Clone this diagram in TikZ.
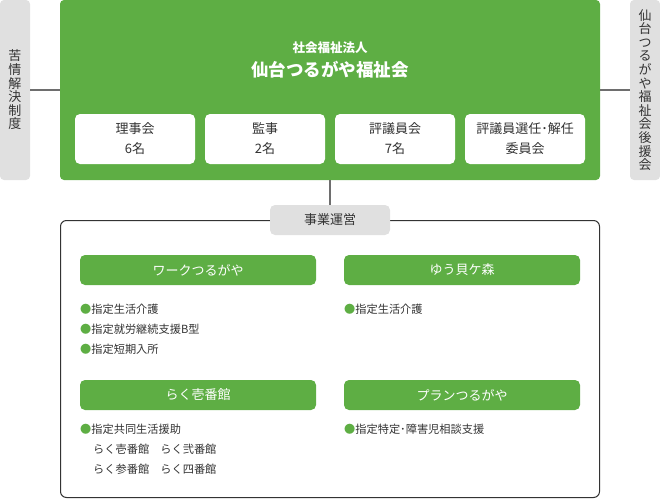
\documentclass[tikz,border=0pt]{standalone}
\usepackage{fontspec}
\setmainfont{Noto Sans CJK JP}
\definecolor{orggreen}{HTML}{5EAE44}
\definecolor{boxgray}{HTML}{E0E0E0}
\definecolor{txtgray}{HTML}{333333}
\definecolor{linegray}{HTML}{6E6E6E}
\begin{document}
\begin{tikzpicture}[x=1pt,y=-1pt,
  sidebox/.style={fill=boxgray, rounded corners=4pt, minimum width=30pt, minimum height=180pt, inner sep=0pt, align=center, text=txtgray, font=\fontsize{13}{13.6}\selectfont},
  corpbox/.style={fill=orggreen, rounded corners=4pt, minimum width=540pt, minimum height=180pt, inner sep=0pt},
  whitebox/.style={fill=white, rounded corners=5pt, minimum width=120pt, minimum height=50pt, inner sep=0pt, align=center, text=txtgray, font=\fontsize{13}{20}\selectfont},
  greenbar/.style={fill=orggreen, rounded corners=5pt, minimum width=236pt, minimum height=30pt, inner sep=0pt, text=white, font=\fontsize{13}{15}\selectfont},
  labelbox/.style={fill=boxgray, rounded corners=5pt, minimum width=120pt, minimum height=30pt, inner sep=0pt, text=txtgray, font=\fontsize{13}{15}\selectfont},
  outerbox/.style={draw=txtgray, line width=1pt, rounded corners=6pt, minimum width=539pt, minimum height=277pt, inner sep=0pt},
  conn/.style={draw=linegray, line width=1.2pt},
  item/.style={anchor=west, inner sep=0pt, text=txtgray, font=\fontsize{11.2}{14}\selectfont},
  bul/.style={text=orggreen}
]
\useasboundingbox (0,0) rectangle (660,500);
% side boxes
\node[sidebox] (left) at (15,90) {苦\\情\\解\\決\\制\\度};
\node[sidebox] (right) at (645,90) {仙\\台\\つ\\る\\が\\や\\福\\祉\\会\\後\\援\\会};
% corporation
\node[corpbox] (corp) at (330,90) {};
\node[text=white, font=\bfseries\fontsize{12.5}{14}\selectfont, inner sep=0pt] (t1) at (330,48) {社会福祉法人};
\node[text=white, font=\bfseries\fontsize{17.5}{20}\selectfont, inner sep=0pt] (t2) at (330,70) {仙台つるがや福祉会};
\node[whitebox] (b1) at (135,139) {理事会\\6名};
\node[whitebox] (b2) at (265,139) {監事\\2名};
\node[whitebox] (b3) at (395,139) {評議員会\\7名};
\node[whitebox] (b4) at (525,139) {評議員選任･解任\\委員会};
% connectors
\draw[conn] (left.east) -- (corp.west);
\draw[conn] (corp.east) -- (right.west);
% operations
\node[outerbox] (outer) at (330,359) {};
\node[labelbox] (jigyo) at (330,220) {事業運営};
\draw[conn] (corp.south) -- (jigyo.north);
\node[greenbar] (g1) at (198,270) {ワークつるがや};
\node[greenbar] (g2) at (462,270) {ゆう貝ケ森};
\node[greenbar] (g3) at (198,395) {らく壱番館};
\node[greenbar] (g4) at (462,395) {プランつるがや};
\node[item] (i1) at (80,309) {{\color{orggreen}●}指定生活介護};
\node[item] (i2) at (80,329) {{\color{orggreen}●}指定就労継続支援B型};
\node[item] (i3) at (80,349) {{\color{orggreen}●}指定短期入所};
\node[item] (i4) at (344,309) {{\color{orggreen}●}指定生活介護};
\node[item] (i5) at (80,429) {{\color{orggreen}●}指定共同生活援助};
\node[item] (i6) at (93,449) {らく壱番館　らく弐番館};
\node[item] (i7) at (93,469) {らく参番館　らく四番館};
\node[item] (i8) at (344,429) {{\color{orggreen}●}指定特定･障害児相談支援};
\end{tikzpicture}
\end{document}
